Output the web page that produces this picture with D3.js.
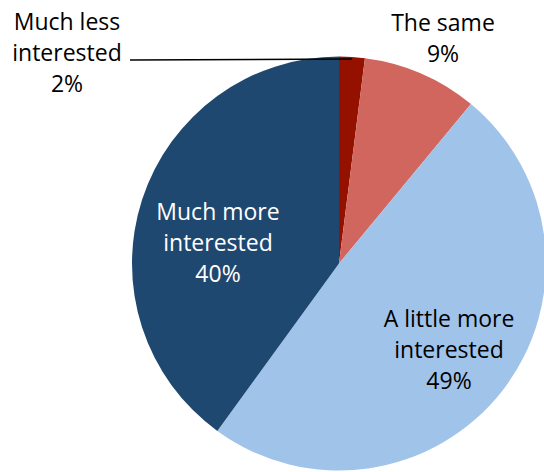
<!DOCTYPE html>
<html>
<head>
<meta charset="utf-8">
<script src="https://cdn.jsdelivr.net/npm/d3@7"></script>
<style>
  html, body { margin: 0; padding: 0; background: #fff; }
  svg { display: block; }
</style>
</head>
<body>
<svg id="chart" width="544" height="472"></svg>
<script>
// Survey responses, clockwise from 12 o'clock
const categories = ["Much less interested", "The same", "A little more interested", "Much more interested"];
const values = [2, 9, 49, 40];
const labelLines = [
  ["Much less", "interested", "2%"],
  ["The same", "9%"],
  ["A little more", "interested", "49%"],
  ["Much more", "interested", "40%"]
];
const colors = ["#941100", "#D0665E", "#A0C3EA", "#1F4870"];
const textColors = ["#000", "#000", "#000", "#fff"];

const svg = d3.select("#chart");
const cx = 339, cy = 263.5, radius = 207;
const fontSize = 23, lineH = 31;

const color = d3.scaleOrdinal().domain(categories).range(colors);
const pie = d3.pie().sort(null).value(d => d.value);
const arc = d3.arc().innerRadius(0).outerRadius(radius);

const data = categories.map((c, i) => ({ name: c, value: values[i], lines: labelLines[i], tc: textColors[i] }));
const arcs = pie(data);

const g = svg.append("g").attr("transform", `translate(${cx},${cy})`);

g.selectAll("path.slice")
  .data(arcs)
  .join("path")
  .attr("class", "slice")
  .attr("d", arc)
  .attr("fill", d => color(d.data.name));

// Label anchor (block centre) for each slice, relative to the pie centre;
// the two small slices are labelled outside the pie.
const labelOffsets = [[-272, -210.5], [104, -225.5], [110, 86.5], [-121, -20.5]];

// Leader line for the 2% slice, ending just inside its outer edge
const s0 = arcs[0];
const m0 = (s0.startAngle + s0.endAngle) / 2;
const edge = [(radius - 2) * Math.sin(m0), -(radius - 2) * Math.cos(m0)];
g.append("line")
  .attr("x1", -209).attr("y1", -203.5)
  .attr("x2", edge[0]).attr("y2", edge[1])
  .attr("stroke", "#000").attr("stroke-width", 1.5);

arcs.forEach((d, i) => {
  const [x, y] = labelOffsets[i];
  const n = d.data.lines.length;
  const t = g.append("text")
    .attr("text-anchor", "middle")
    .attr("font-family", "'Open Sans', 'Liberation Sans', sans-serif")
    .attr("font-size", fontSize)
    .attr("fill", d.data.tc);
  d.data.lines.forEach((ln, k) => {
    t.append("tspan")
      .attr("x", x)
      .attr("y", y + (k - (n - 1) / 2) * lineH)
      .attr("dy", "0.35em")
      .text(ln);
  });
});
</script>
</body>
</html>
